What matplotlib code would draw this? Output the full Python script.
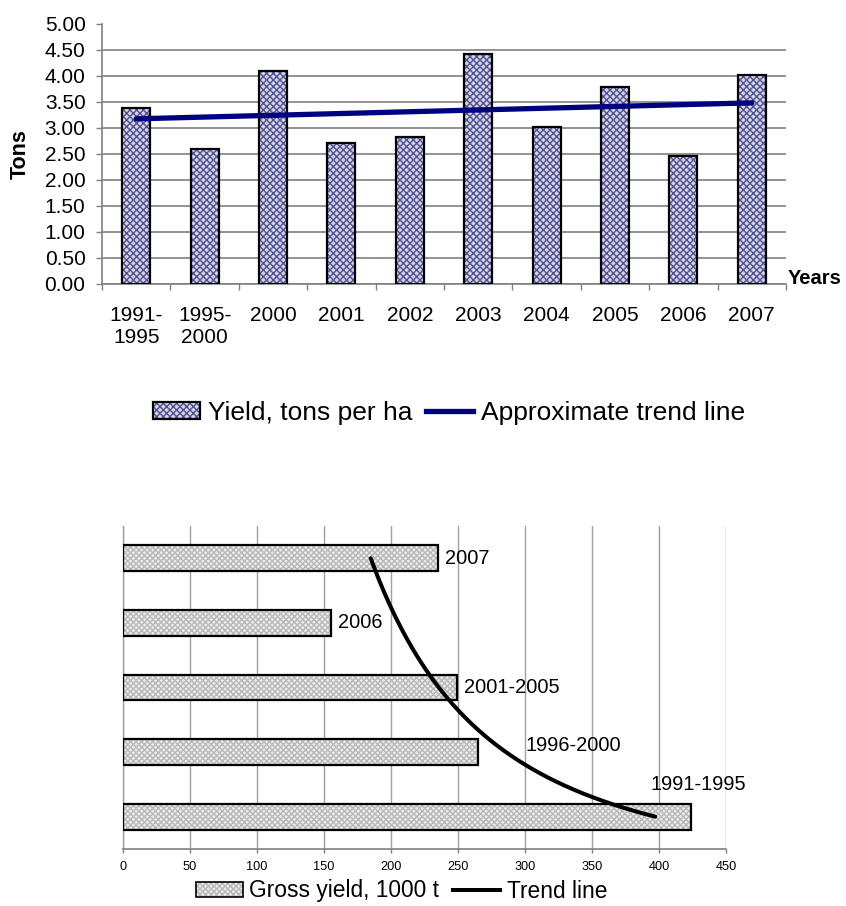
import numpy as np
import matplotlib
matplotlib.use("Agg")
import matplotlib.pyplot as plt
import matplotlib.patches as mpatches
from matplotlib.lines import Line2D
from matplotlib.ticker import FixedLocator

plt.rcParams["font.family"] = ["Liberation Sans", "DejaVu Sans"]
plt.rcParams["hatch.linewidth"] = 1.0

# ---- yield per hectare ----
yield_periods = ["1991-\n1995", "1995-\n2000", "2000", "2001", "2002",
                 "2003", "2004", "2005", "2006", "2007"]
yield_tons = [3.38, 2.60, 4.10, 2.70, 2.82, 4.42, 3.01, 3.78, 2.45, 4.02]
yield_ticks = [0.0, 0.5, 1.0, 1.5, 2.0, 2.5, 3.0, 3.5, 4.0, 4.5, 5.0]

# ---- gross yield ----
gross_periods = ["1991-1995", "1996-2000", "2001-2005", "2006", "2007"]
gross_kt = [424, 265, 249, 155, 235]
gross_ticks = [0, 50, 100, 150, 200, 250, 300, 350, 400, 450]

W, H = 846, 906
fig = plt.figure(figsize=(W / 100, H / 100), dpi=100)

GRID = "#808080"
NAVY = "#000080"
TOP_FILL, TOP_DOTS = "#d4d4e8", "#50508e"
BOT_FILL, BOT_DOTS = "#ececec", "#b8b8b8"
TOP_HATCH = "xxxxx"
BOT_HATCH = "xxxxxx"

# ================= upper chart =================
ax1 = fig.add_axes([102 / W, 1 - 283.7 / H, (786 - 102) / W, (283.7 - 24) / H])
x = np.arange(len(yield_tons))
ax1.bar(x, yield_tons, width=0.41, color=TOP_FILL, edgecolor=TOP_DOTS,
        hatch=TOP_HATCH, linewidth=0, zorder=2)
ax1.bar(x, yield_tons, width=0.41, fill=False, edgecolor="black",
        linewidth=1.6, zorder=3)

slope, icpt = np.polyfit(x, yield_tons, 1)
xt = np.array([x[0], x[-1]])
ax1.plot(xt, slope * xt + icpt, color=NAVY, lw=3.8, solid_capstyle="round",
         zorder=4)

ax1.set_xlim(-0.5, len(x) - 0.5)
ax1.set_ylim(0, 5.0)
ax1.set_yticks(yield_ticks)
ax1.set_yticklabels([f"{v:.2f}" for v in yield_ticks])
ax1.set_xticks(x)
ax1.set_xticklabels(yield_periods)
ax1.xaxis.set_minor_locator(FixedLocator(np.arange(len(x) + 1) - 0.5))
ax1.tick_params(axis="x", which="major", length=0, pad=16, labelsize=15)
ax1.tick_params(axis="x", which="minor", length=4.3, width=1, color=GRID,
                direction="out")
ax1.tick_params(axis="y", length=4.3, width=1, color=GRID, pad=7.5,
                labelsize=15)
ax1.grid(axis="y", color=GRID, lw=1.2, zorder=0)
ax1.set_axisbelow(True)
ax1.yaxis.get_gridlines()[-1].set_visible(False)
for s in ("top", "right"):
    ax1.spines[s].set_visible(False)
for s in ("left", "bottom"):
    ax1.spines[s].set_color(GRID)
    ax1.spines[s].set_linewidth(1.2)

fig.text(20.5 / W, 1 - 154 / H, "Tons", rotation=90, ha="center",
         va="center", fontsize=15.5, fontweight="bold")
fig.text(788 / W, 1 - 279 / H, "Years", ha="left", va="center",
         fontsize=14.5, fontweight="bold")

h_bar1 = (mpatches.Patch(facecolor=TOP_FILL, edgecolor=TOP_DOTS,
                         hatch=TOP_HATCH, linewidth=0),
          mpatches.Patch(fill=False, edgecolor="black", linewidth=1.6))
h_line1 = Line2D([], [], color=NAVY, lw=3.8)
fig.legend([h_bar1, h_line1], ["Yield, tons per ha", "Approximate trend line"],
           loc="center", bbox_to_anchor=(449 / W, 1 - 413 / H), ncol=2,
           frameon=False, fontsize=19, handlelength=1.78, handleheight=0.6,
           handletextpad=0.3, columnspacing=0.5, borderpad=0, borderaxespad=0)

# ================= lower chart =================
ax2 = fig.add_axes([122.7 / W, 1 - 849 / H, (726 - 122.7) / W, (849 - 526) / H])
y = np.arange(len(gross_kt))
ax2.barh(y, gross_kt, height=0.40, color=BOT_FILL, edgecolor=BOT_DOTS,
         hatch=BOT_HATCH, linewidth=0, zorder=2)
ax2.barh(y, gross_kt, height=0.40, fill=False, edgecolor="black",
         linewidth=1.6, zorder=3)

# power trend fitted over the period index 1..n
n_idx = y + 1
b, ln_a = np.polyfit(np.log(n_idx), np.log(gross_kt), 1)
t = np.linspace(1, len(gross_kt), 200)
ax2.plot(np.exp(ln_a) * t ** b, t - 1, color="black", lw=2.9,
         solid_capstyle="round", zorder=4)

label_offsets = [(-41, 32), (48, 7), (7, 0), (7, 0), (7, 0)]
for yi, v, lab, (dx, dy) in zip(y, gross_kt, gross_periods, label_offsets):
    ax2.annotate(lab, xy=(v, yi), xytext=(dx, dy), textcoords="offset pixels",
                 ha="left", va="center", fontsize=14.4, zorder=5)

ax2.set_xlim(0, 450)
ax2.set_ylim(-0.5, len(gross_kt) - 0.5)
ax2.set_xticks(gross_ticks)
ax2.set_xticklabels([str(v) for v in gross_ticks])
ax2.set_yticks([])
ax2.tick_params(axis="x", length=3, width=1, color=GRID, pad=6, labelsize=9.2)
ax2.grid(axis="x", color="#a0a0a0", lw=1.0, zorder=0)
ax2.set_axisbelow(True)
for s in ("top", "right"):
    ax2.spines[s].set_visible(False)
ax2.spines["left"].set_color("#a0a0a0")
ax2.spines["left"].set_linewidth(1.0)
ax2.spines["bottom"].set_color(GRID)
ax2.spines["bottom"].set_linewidth(1.2)

h_bar2 = (mpatches.Patch(facecolor=BOT_FILL, edgecolor=BOT_DOTS,
                         hatch=BOT_HATCH, linewidth=0),
          mpatches.Patch(fill=False, edgecolor="black", linewidth=1.2))
h_line2 = Line2D([], [], color="black", lw=2.9)
fig.legend([h_bar2, h_line2], ["Gross yield, 1000 t", "Trend line"],
           loc="center", bbox_to_anchor=(401.5 / W, 1 - 891 / H), ncol=2,
           frameon=False, fontsize=16.4, handlelength=2.06, handleheight=0.6,
           handletextpad=0.3, columnspacing=0.6, borderpad=0, borderaxespad=0)

fig.savefig("out.png", dpi=100, facecolor="white")
